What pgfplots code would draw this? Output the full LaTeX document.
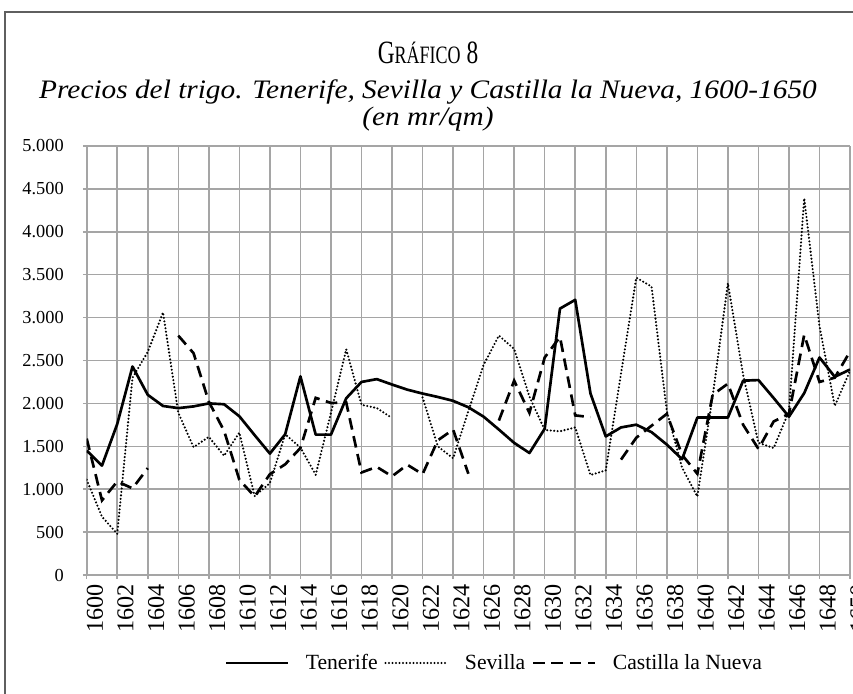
\documentclass[border=0pt]{standalone}
\usepackage{fontspec}
\setmainfont{Liberation Serif}
\usepackage{pgfplots}
\pgfplotsset{compat=1.18}
\usepackage{pgfplotstable}

\pgfplotstableread{
year ten sev cas
1600 1450 1110 1590
1601 1275 680 870
1602 1760 480 1090
1603 2430 2300 1010
1604 2100 2600 1245
1605 1970 3060 nan
1606 1945 1890 2790
1607 1965 1490 2585
1608 2000 1610 2020
1609 1990 1390 1680
1610 1850 1660 1110
1611 1630 920 915
1612 1415 1070 1175
1613 1640 1640 1290
1614 2315 1485 1480
1615 1636 1168 2065
1616 1636 1890 2005
1617 2060 2630 2010
1618 2250 1984 1195
1619 2283 1946 1260
1620 2220 1830 1150
1621 2160 nan 1285
1622 2115 2070 1175
1623 2075 1500 1570
1624 2030 1360 1695
1625 1955 1910 1180
1626 1845 2450 nan
1627 1695 2790 1800
1628 1540 2635 2265
1629 1422 2080 1890
1630 1705 1690 2535
1631 3105 1675 2775
1632 3207 1720 1860
1633 2115 1165 1840
1634 1615 1220 nan
1635 1720 2350 1345
1636 1752 3465 1600
1637 1665 3362 1740
1638 1520 1910 1878
1639 1350 1250 1400
1640 1835 915 1180
1641 1835 2080 2100
1642 1835 3400 2230
1643 2265 2330 1750
1644 2272 1540 1470
1645 2062 1480 1790
1646 1845 1910 1878
1647 2120 4390 2800
1648 2535 2900 2250
1649 2310 1970 2300
1650 2395 2380 2605
}\data

\definecolor{gridgray}{RGB}{165,165,165}
\definecolor{framegray}{RGB}{95,95,95}

\begin{document}
\begin{tikzpicture}[x=0.6pt,y=0.6pt]
\useasboundingbox (0,0) rectangle (853,693);
\draw[line width=1.4pt, color=framegray] (5,-30) -- (5,681) -- (880,681);
\node at (428,640) {\scalebox{0.72}[1]{\fontsize{19.5}{21}\selectfont G{\fontsize{15}{16}\selectfont RÁFICO} 8}};
\node at (428,601) {\scalebox{1.1}[1]{\fontsize{16}{18}\selectfont\itshape Precios del trigo. Tenerife, Sevilla y Castilla la Nueva, 1600-1650}};
\node at (428,574) {\scalebox{1.1}[1]{\fontsize{16}{18}\selectfont\itshape (en mr/qm)}};
\begin{axis}[
  at={(52.02pt,70.8pt)}, anchor=south west,
  scale only axis, width=458pt, height=257.4pt,
  xmin=1600, xmax=1650, ymin=0, ymax=5000,
  xtick={1600,1602,...,1650},
  ytick={0,500,...,5000},
  yticklabels={0,500,1.000,1.500,2.000,2.500,3.000,3.500,4.000,4.500,5.000},
  scaled y ticks=false,
  grid=major,
  major grid style={color=gridgray, line width=0.9pt},
  axis x line*=bottom, axis y line*=left,
  axis line style={color=gridgray, line width=1.1pt, -},
  tick align=center, major tick length=4.5pt,
  tick style={color=gridgray, line width=0.9pt},
  /pgf/number format/assume math mode=true,
  xticklabel style={rotate=90, anchor=east, font=\fontsize{14.5}{16}\selectfont, /pgf/number format/1000 sep={}, yshift=-5pt},
  yticklabel style={font=\fontsize{11}{13}\selectfont, xshift=-8pt},
  unbounded coords=jump,
  legend style={at={(0.535,-0.205)}, anchor=center, legend columns=-1, draw=none, fill=none,
    font=\fontsize{13}{15}\selectfont,
    /tikz/every even column/.append style={column sep=2pt},
    /tikz/every odd column/.append style={column sep=8pt}},
  legend image code/.code={\draw[#1] (0pt,0pt) -- (37pt,0pt);},
]
\addplot[black, line width=1.6pt, line join=round] table[x=year, y=ten] {\data};
\addlegendentry{Tenerife}
\addplot[black, line width=1.4pt, line cap=round, dash pattern=on 0pt off 2.1pt] table[x=year, y=sev] {\data};
\addlegendentry{Sevilla}
\addplot[black, line width=1.6pt, dash pattern=on 7pt off 4pt] table[x=year, y=cas] {\data};
\addlegendentry{Castilla la Nueva}
\end{axis}
\end{tikzpicture}
\end{document}
